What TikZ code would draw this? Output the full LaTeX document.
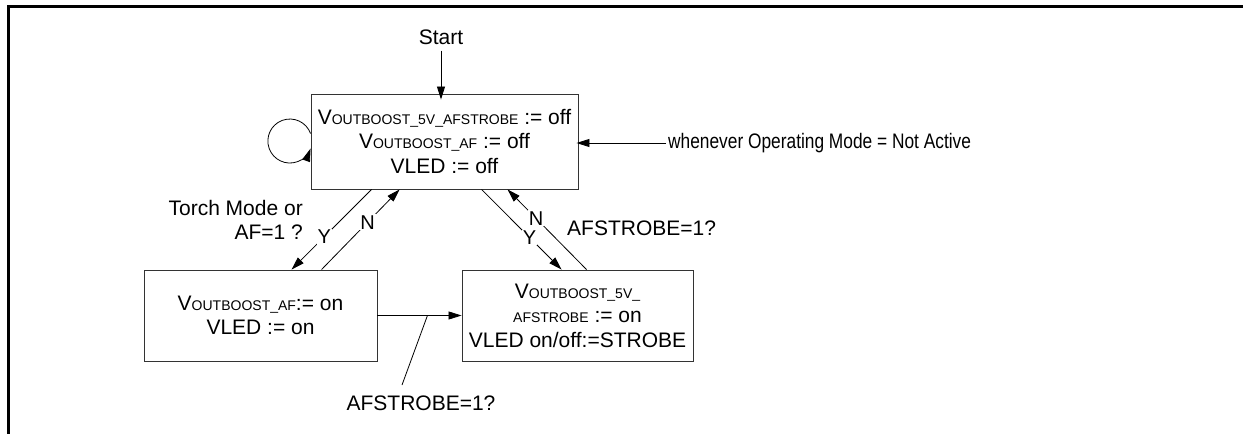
\documentclass[tikz,border=0pt]{standalone}
\usepackage{fontspec}
\setmainfont{Liberation Sans}
\usetikzlibrary{arrows.meta,calc}
\newcommand\smc[1]{{\fontsize{14}{16}\selectfont #1}}
\begin{document}
\begin{tikzpicture}[x=1pt,y=-1pt,
  box/.style={draw=black!80, line width=0.9pt, inner sep=0pt, align=center,
              font=\fontsize{21}{24.5}\selectfont},
  arr/.style={-{Triangle[length=13pt,width=8pt]}, line width=0.8pt},
  lab/.style={font=\fontsize{21}{24}\selectfont, inner sep=0pt},
  yn/.style={font=\fontsize{20}{20}\selectfont, fill=white, inner sep=1pt},
  frame/.style={line width=2.5pt, line join=miter}]
\useasboundingbox (0,0) rectangle (1243,434);
\draw[frame] (1243,6.5) -- (8.5,6.5) -- (8.5,434);

\node[box, minimum width=267pt, minimum height=95pt] (top) at (444.5,141.5)
  {V\smc{OUTBOOST\_5V\_AFSTROBE} := off\\ V\smc{OUTBOOST\_AF} := off\\ VLED := off};
\node[box, minimum width=233pt, minimum height=91pt] (bl) at (260.5,315.5)
  {V\smc{OUTBOOST\_AF}:= on\\ VLED := on};
\node[box, minimum width=231pt, minimum height=91pt] (br) at (577.5,315.5)
  {V\smc{OUTBOOST\_5V\_}\\ \smc{AFSTROBE} := on\\ VLED on/off:=STROBE};

\node[lab] (start) at (441,37) {Start};
\node[lab, anchor=west] (when) at (668,143) {\scalebox{0.825}[1]{whenever Operating Mode = Not Active}};
\node[lab, align=right, anchor=east] (torch) at (303,220) {Torch Mode or\\AF=1 ?};
\node[lab, anchor=west] (afr) at (567,228) {AFSTROBE=1?};
\node[lab] (afb) at (421,403) {AFSTROBE=1?};
\coordinate (tk) at (402,385);

\draw[arr] ([yshift=-6pt]start.south) -- ([yshift=-6pt]start.south |- top.north);
\draw[arr] ([xshift=-2pt]when.west) -- ([xshift=-2pt]when.west -| top.east);
\draw[arr] ([yshift=8pt]top.west) arc[start angle=20, end angle=340, radius=22pt];

\draw[arr] ([xshift=61pt]top.south west) -- node[yn, pos=0.59]{Y} ([xshift=148pt]bl.north west);
\draw[arr] ([xshift=178pt]bl.north west) -- node[yn, pos=0.59]{N} ([xshift=89pt]top.south west);
\draw[arr] ([xshift=171pt]top.south west) -- node[yn, pos=0.6]{Y} ([xshift=100pt]br.north west);
\draw[arr] ([xshift=125pt]br.north west) -- node[yn, pos=0.64]{N} ([xshift=197pt]top.south west);

\draw[arr] (bl.east) -- (br.west);
\draw[line width=0.8pt] ([xshift=50pt]bl.east) -- (tk);
\end{tikzpicture}
\end{document}
